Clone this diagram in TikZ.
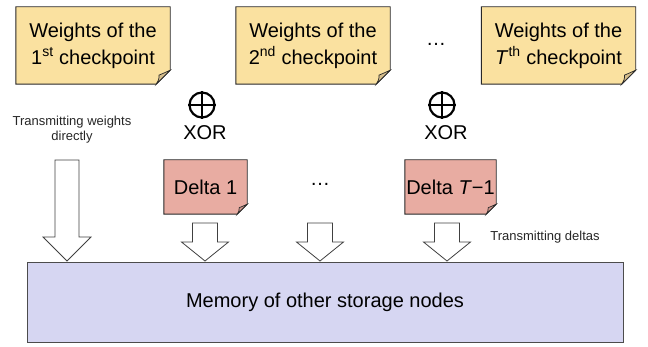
\documentclass[tikz,border=0pt]{standalone}
\usepackage{fontspec}
\setmainfont{Liberation Sans}
\usetikzlibrary{calc}
\definecolor{noteY}{RGB}{250,225,160}
\definecolor{foldY}{RGB}{214,190,140}
\definecolor{noteR}{RGB}{232,172,162}
\definecolor{foldR}{RGB}{205,148,138}
\definecolor{memC}{RGB}{214,214,242}
\definecolor{edgeC}{RGB}{40,40,40}
\tikzset{
  bigtxt/.style={font=\fontsize{20}{27}\selectfont, text=black, align=center, inner sep=0pt},
  smalltxt/.style={font=\fontsize{13}{15}\selectfont, text=black!85, align=center, inner sep=0pt},
  notebox/.style={minimum width=154pt, minimum height=77pt, inner sep=0pt, bigtxt},
  deltabox/.style={minimum height=54pt, inner sep=0pt, bigtxt},
  edgeline/.style={draw=edgeC, line width=0.9pt, line join=miter},
  arrowline/.style={draw=black!75, line width=0.8pt, fill=white, line join=miter},
  xorsym/.style={circle, draw=black, line width=2.2pt, minimum size=25pt, inner sep=0pt},
}
% outline of a note with folded corner: #1 node name, #2 fold size, #3 fill, #4 fold fill
\newcommand{\notefold}[4]{%
  \path[edgeline, fill=#3] (#1.north west) -- (#1.north east) -- ([yshift=#2]#1.south east)
     -- ([xshift=-#2]#1.south east) -- (#1.south west) -- cycle;
  \path[edgeline, fill=#4, line width=0.7pt] ([yshift=#2]#1.south east)
     .. controls ([xshift=-0.55*#2, yshift=0.75*#2]#1.south east) .. ([xshift=-0.8*#2, yshift=0.65*#2]#1.south east)
     .. controls ([xshift=-0.8*#2, yshift=0.35*#2]#1.south east) .. ([xshift=-#2]#1.south east) -- cycle;
}
% block arrow: #1 center x, #2 top, #3 head base, #4 tip, #5 shaft half, #6 head half
\newcommand{\blockarrow}[6]{%
  \path[arrowline] (#1-#5,#2) -- (#1+#5,#2) -- (#1+#5,#3) -- (#1+#6,#3) -- (#1,#4)
     -- (#1-#6,#3) -- (#1-#5,#3) -- cycle;
}
\begin{document}
\begin{tikzpicture}[x=1pt,y=-1pt]
\useasboundingbox (0,0) rectangle (648,347);

% checkpoint notes
\node[notebox] (w1) at (93,45.5) {};
\node[notebox] (w2) at (313,45.5) {};
\node[notebox] (w3) at (558.5,45.5) {};
\notefold{w1}{14pt}{noteY}{foldY}
\notefold{w2}{14pt}{noteY}{foldY}
\notefold{w3}{14pt}{noteY}{foldY}
\node[notebox] at (w1) {Weights of the\\1\textsuperscript{st} checkpoint};
\node[notebox] at (w2) {Weights of the\\2\textsuperscript{nd} checkpoint};
\node[notebox] at (w3) {Weights of the\\\textit{T}\textsuperscript{th} checkpoint};

\node[bigtxt] (dotsA) at (436,44) {\dots};

% XOR symbols
\node[xorsym] (x1) at (202,105) {};
\draw[line width=2.2pt] (x1.north) -- (x1.south) (x1.west) -- (x1.east);
\node[bigtxt] (xt1) at (205,133) {XOR};
\node[xorsym] (x2) at (442,105) {};
\draw[line width=2.2pt] (x2.north) -- (x2.south) (x2.west) -- (x2.east);
\node[bigtxt] (xt2) at (446,133) {XOR};

% delta notes
\node[deltabox, minimum width=83pt] (d1) at (205.5,187) {};
\node[deltabox, minimum width=91pt] (d2) at (450.5,187) {};
\notefold{d1}{10pt}{noteR}{foldR}
\notefold{d2}{10pt}{noteR}{foldR}
\node[deltabox, minimum width=83pt] at (d1) {Delta 1};
\node[deltabox, minimum width=91pt] at (d2) {Delta \textit{T}−1};

\node[bigtxt] (dotsB) at (320,184) {\dots};

% labels
\node[smalltxt] (lab1) at (72,129.5) {Transmitting weights\\directly};
\node[smalltxt] (lab2) at (545,237) {Transmitting deltas};

% memory
\node[draw=black!70, line width=0.9pt, fill=memC, minimum width=596pt, minimum height=80pt, inner sep=0pt,
  bigtxt] (mem) at (325,302) {Memory of other storage nodes};

% block arrows
\blockarrow{67}{160}{237}{261}{12}{24}
\blockarrow{205}{223}{242}{261}{12.5}{23.5}
\blockarrow{320}{223}{242}{261}{12.5}{23.5}
\blockarrow{447}{223}{242}{261}{12.5}{23.5}
\end{tikzpicture}
\end{document}
